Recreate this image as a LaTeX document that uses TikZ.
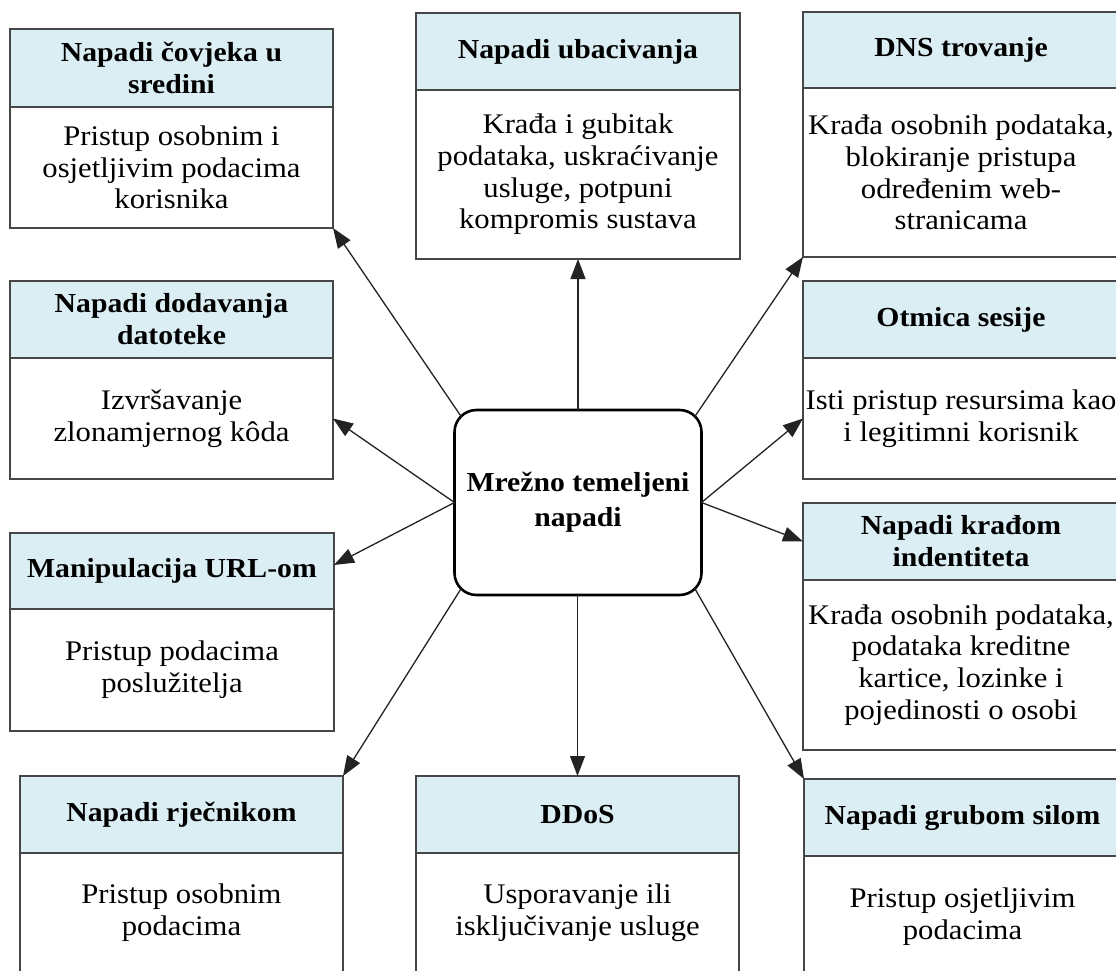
\documentclass[tikz,border=0pt]{standalone}
\usepackage{fontspec}
\setmainfont{Liberation Serif}[FakeStretch=1.08]
\usetikzlibrary{arrows.meta,calc}
\definecolor{hdrblue}{RGB}{219,238,244}
\definecolor{boxline}{RGB}{70,70,70}
\definecolor{arrowcol}{RGB}{35,35,35}
\newcommand{\abox}[8]{%
  \node[hdr, anchor=north west, minimum width={#4-#2}, minimum height={#5-#3}] (#1h) at (#2,#3) {#7};
  \node[bdy, anchor=north west, minimum width={#4-#2}, minimum height={#6-#5}] (#1b) at (#2,#5) {#8};
}
\begin{document}
\begin{tikzpicture}[x=1pt,y=-1pt,
  hdr/.style={draw=boxline, line width=1.4pt, fill=hdrblue, inner sep=0pt, outer sep=0pt, align=center,
    font=\fontsize{27.5}{32}\selectfont\bfseries},
  bdy/.style={draw=boxline, line width=1.4pt, fill=white, inner sep=0pt, outer sep=0pt, align=center,
    font=\fontsize{28.4}{31.7}\selectfont},
  hub/.style={draw=black, line width=2.6pt, rounded corners=22pt, fill=white, inner sep=0pt, outer sep=0pt,
    align=center, minimum width=247pt, minimum height=185pt, font=\fontsize{27.5}{35}\selectfont\bfseries},
  link/.style={draw=arrowcol, line width=1.3pt, -{Triangle[length=20pt,width=15pt]}}
]
\useasboundingbox (0,0) rectangle (1116,971);
\clip (0,0) rectangle (1116,971);
\fill[white] (0,0) rectangle (1116,971);

\abox{a}{10}{29}{333}{107}{228}{Napadi čovjeka u\\sredini}{Pristup osobnim i\\osjetljivim podacima\\korisnika}
\abox{b}{416}{13}{740}{90}{259}{Napadi ubacivanja}{Krađa i gubitak\\podataka, uskraćivanje\\usluge, potpuni\\kompromis sustava}
\abox{c}{803}{12}{1119}{88}{257}{DNS trovanje}{Krađa osobnih podataka,\\blokiranje pristupa\\određenim web-\\stranicama}
\abox{d}{10}{281}{333}{358}{479}{Napadi dodavanja\\datoteke}{Izvršavanje\\zlonamjernog kôda}
\abox{e}{10}{533}{334}{609}{731}{Manipulacija URL-om}{Pristup podacima\\poslužitelja}
\abox{f}{803}{281}{1119}{358}{479}{Otmica sesije}{Isti pristup resursima kao\\i legitimni korisnik}
\abox{g}{803}{503}{1119}{580}{750}{Napadi krađom\\indentiteta}{Krađa osobnih podataka,\\podataka kreditne\\kartice, lozinke i\\pojedinosti o osobi}
\abox{h}{20}{776}{343}{853}{973}{Napadi rječnikom}{Pristup osobnim\\podacima}
\abox{i}{416}{776}{739}{853}{973}{DDoS}{Usporavanje ili\\isključivanje usluge}
\abox{j}{804}{779}{1121}{856}{977}{Napadi grubom silom}{Pristup osjetljivim\\podacima}

\node[hub] (hub) at (578,502.5) {Mrežno temeljeni\\napadi};
\coordinate (hnw) at ($(hub.north west)+(7,7)$);
\coordinate (hne) at ($(hub.north east)+(-7,7)$);
\coordinate (hsw) at ($(hub.south west)+(7,-7)$);
\coordinate (hse) at ($(hub.south east)+(-7,-7)$);
\coordinate (etip) at ([yshift=6pt]eh.east);
\coordinate (htop) at (bb.south |- hub.north);
\coordinate (hbot) at (ih.north |- hub.south);

\draw[link] (hnw) -- (ab.south east);
\draw[link] (htop) -- (bb.south);
\draw[link] (hne) -- (cb.south west);
\draw[link] (hub.west) -- (db.east);
\draw[link] (hub.west) -- (etip);
\draw[link] (hub.east) -- (fb.west);
\draw[link] (hub.east) -- (gh.west);
\draw[link] (hsw) -- (hh.north east);
\draw[link] (hbot) -- (ih.north);
\draw[link] (hse) -- (jh.north west);
\end{tikzpicture}
\end{document}
